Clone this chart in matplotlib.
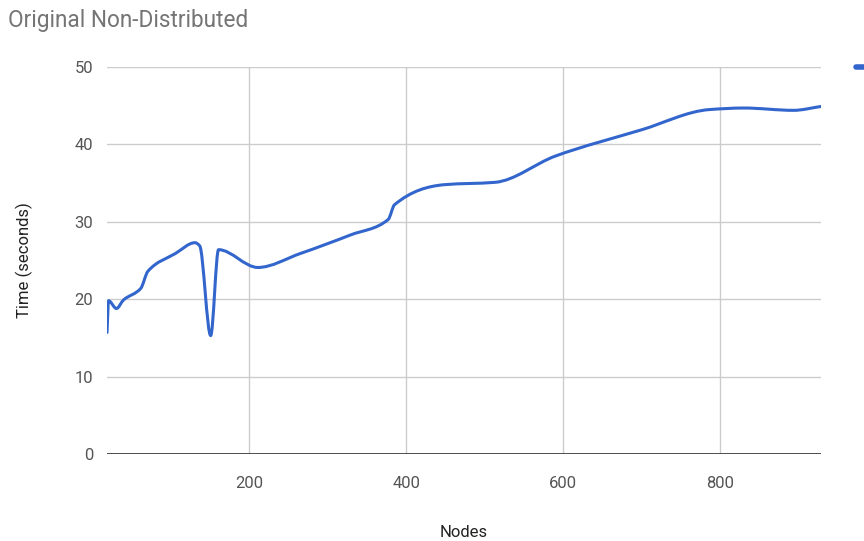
import matplotlib
matplotlib.use('Agg')
import matplotlib.pyplot as plt
import numpy as np
from matplotlib.path import Path
from matplotlib.patches import PathPatch
from matplotlib.lines import Line2D

plt.rcParams['font.family'] = ['Roboto', 'DejaVu Sans']

# data
nodes = [19, 21, 31, 40, 62, 71, 106, 131, 137, 151, 161, 211, 265, 329, 377, 385, 449, 513,
         590, 700, 786, 830, 893, 928]
seconds = [15.7, 19.8, 18.8, 19.9, 21.4, 23.6, 25.9, 27.3, 26.9, 15.3, 26.4, 24.1, 25.9, 28.3,
           30.3, 32.2, 34.8, 35.1, 38.5, 41.9, 44.5, 44.7, 44.4, 44.9]
x_ticks = [200, 400, 600, 800]
y_ticks = [0, 10, 20, 30, 40, 50]

title = 'Original Non-Distributed'
x_label = 'Nodes'
y_label = 'Time (seconds)'
line_color = '#3366cc'


def smooth_path(xs, ys):
    # monotone cubic (pchip-like) tangents, drawn as bezier segments
    xs = np.asarray(xs, float)
    ys = np.asarray(ys, float)
    n = len(xs)
    h = np.diff(xs)
    d = np.diff(ys) / h
    m = np.zeros(n)
    m[0], m[-1] = d[0], d[-1]
    for i in range(1, n - 1):
        if d[i - 1] * d[i] > 0:
            w1 = 2 * h[i] + h[i - 1]
            w2 = h[i] + 2 * h[i - 1]
            m[i] = (w1 + w2) / (w1 / d[i - 1] + w2 / d[i])
    verts = [(xs[0], ys[0])]
    codes = [Path.MOVETO]
    for i in range(n - 1):
        c1 = (xs[i] + h[i] / 3, ys[i] + m[i] * h[i] / 3)
        c2 = (xs[i + 1] - h[i] / 3, ys[i + 1] - m[i + 1] * h[i] / 3)
        verts += [c1, c2, (xs[i + 1], ys[i + 1])]
        codes += [Path.CURVE4] * 3
    return Path(verts, codes)


fig = plt.figure(figsize=(8.64, 5.41), dpi=100)
ax = fig.add_axes([107 / 864, 1 - 454 / 541, (821 - 107) / 864, (454 - 67) / 541])

ax.set_xlim(nodes[0], nodes[-1])
ax.set_ylim(0, 50)
ax.set_xticks(x_ticks)
ax.set_yticks(y_ticks)
ax.grid(True, color='#cccccc', linewidth=1)
ax.set_axisbelow(True)
for s in ax.spines.values():
    s.set_visible(False)
ax.axhline(0, color='#333333', linewidth=1.2, zorder=2)
ax.tick_params(length=0, labelsize=12, labelcolor='#555555')
ax.tick_params(axis='x', pad=16)
ax.tick_params(axis='y', pad=10)

patch = PathPatch(smooth_path(nodes, seconds), facecolor='none', edgecolor=line_color,
                  linewidth=2.2, capstyle='round', joinstyle='round', zorder=3)
ax.add_patch(patch)

ax.set_xlabel(x_label, fontsize=12, color='#222222', labelpad=24)
ax.set_ylabel(y_label, fontsize=12, color='#222222', labelpad=30)

fig.text(8 / 864, 1 - 20 / 541, title, fontsize=16.3, color='#757575', va='center', ha='left')

# legend marker cut off at the right edge
fig.add_artist(Line2D([856 / 864, 880 / 864], [1 - 67 / 541, 1 - 67 / 541],
                      color=line_color, linewidth=4, solid_capstyle='round'))

fig.savefig('out.png', dpi=100)
